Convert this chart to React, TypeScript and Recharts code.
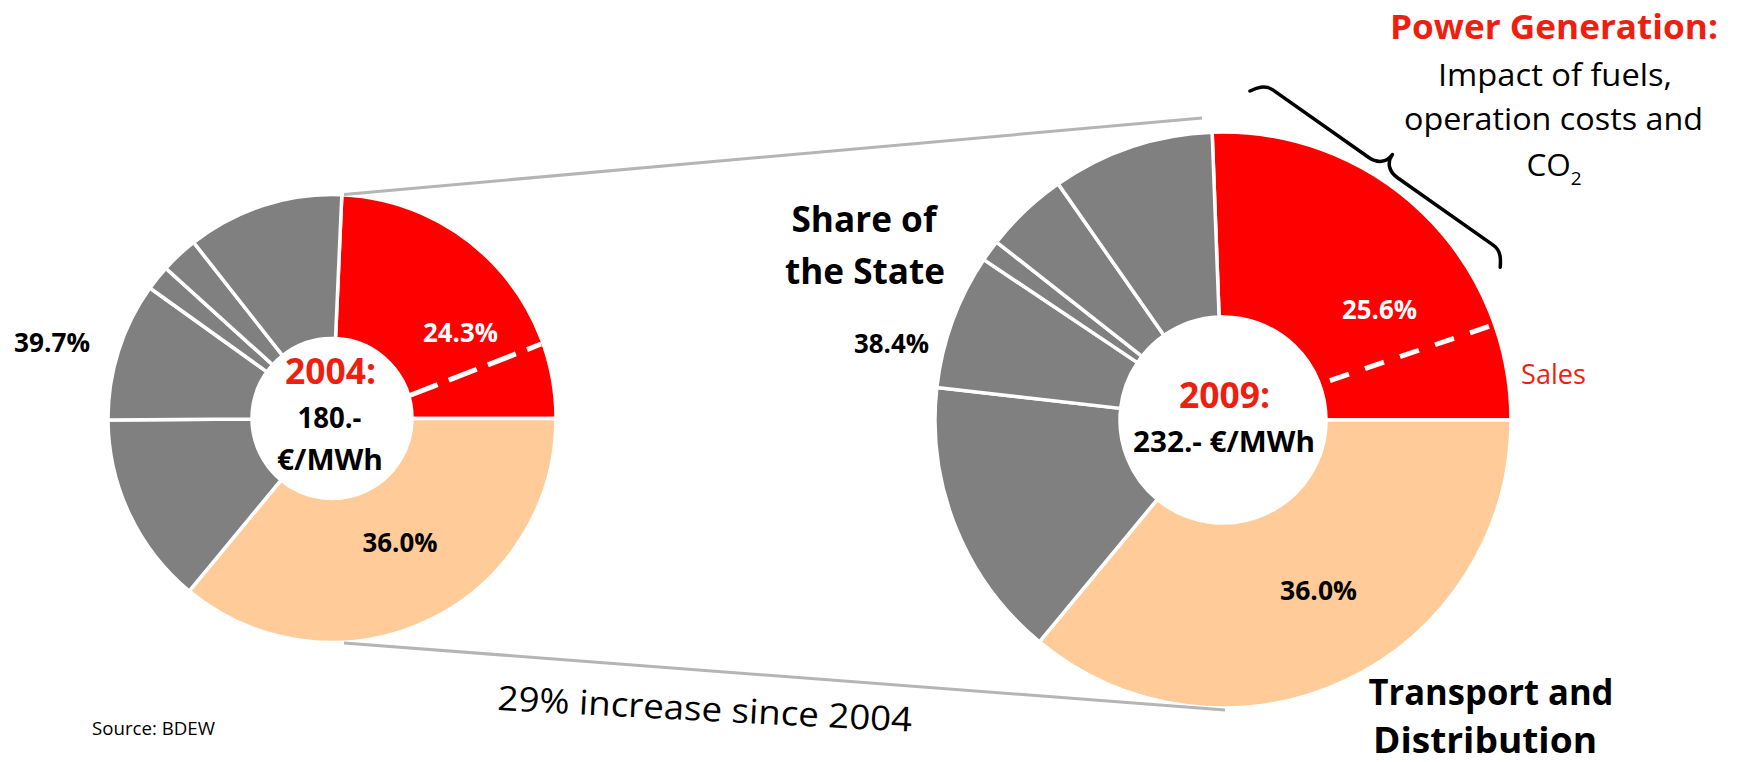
import React from 'react';
import { PieChart, Pie, Cell } from 'recharts';

// ---------- data ----------
const segmentNames = ['Power Generation', 'Transport and Distribution', 'State share A', 'State share B', 'State share C', 'State share D', 'State share E'];
const share2004 = [24.3, 36.0, 13.9, 10.0, 1.8, 2.7, 11.3];
const share2009 = [25.6, 36.0, 15.8, 7.6, 1.2, 4.7, 9.1];
const segmentColors = ['#ff0000', '#ffcc99', '#808080', '#808080', '#808080', '#808080', '#808080'];
const years = ['2004', '2009'];
const prices = [180, 232];

// ---------- layout ----------
const W = 1737;
const H = 762;
const RED_TEXT = '#ee1f10';
const FONT = "'Open Sans', 'Noto Sans', sans-serif";

const P1 = { cx: 332, cy: 418.5, inner: 80, outer: 224 };
const P2 = { cx: 1223, cy: 420, inner: 103, outer: 288 };

const toData = (vals: number[]) => vals.map((v, i) => ({ name: segmentNames[i], value: v }));
const data2004 = toData(share2004);
const data2009 = toData(share2009);
const stateShare = (vals: number[]) => vals.slice(2).reduce((a, b) => a + b, 0);
const pct = (v: number) => `${v.toFixed(1)}%`;

const polar = (cx: number, cy: number, r: number, deg: number) => {
  const a = (deg * Math.PI) / 180;
  return [cx + r * Math.cos(a), cy - r * Math.sin(a)];
};

type TProps = {
  x: number; y: number; size: number; w?: number; bold?: boolean; fill?: string;
  anchor?: 'start' | 'middle' | 'end'; children: React.ReactNode; transform?: string;
};
const T = ({ x, y, size, w, bold, fill = '#000', anchor = 'middle', children, transform }: TProps) => (
  <text
    x={x}
    y={y}
    fontSize={size}
    fontFamily={FONT}
    fontWeight={bold ? 700 : 400}
    fill={fill}
    textAnchor={anchor}
    textLength={w}
    lengthAdjust={w ? 'spacingAndGlyphs' : undefined}
    transform={transform}
  >
    {children}
  </text>
);

const Dashed = ({ p, r1, a1, r2, a2, dash }: { p: typeof P1; r1: number; a1: number; r2: number; a2: number; dash: string }) => {
  const [x1, y1] = polar(p.cx, p.cy, r1, a1);
  const [x2, y2] = polar(p.cx, p.cy, r2, a2);
  return <line x1={x1} y1={y1} x2={x2} y2={y2} stroke="#fff" strokeWidth={5} strokeDasharray={dash} />;
};

export default function App() {
  const braceL = 306;
  const h = braceL / 2;
  const bracePath = `M0,0 C3,-5 8,-14 18,-14 L${h - 18},-14 C${h - 7},-14 ${h},-20 ${h},-30 C${h},-20 ${h + 7},-14 ${h + 18},-14 L${braceL - 18},-14 C${braceL - 8},-14 ${braceL - 3},-5 ${braceL},0`;

  return (
    <div style={{ position: 'absolute', left: 0, top: 0, width: W, height: H, background: '#fff', overflow: 'hidden' }}>
      <PieChart width={W} height={H} margin={{ top: 0, right: 0, bottom: 0, left: 0 }}>
        <Pie
          data={data2004}
          dataKey="value"
          nameKey="name"
          cx={P1.cx}
          cy={P1.cy}
          innerRadius={P1.inner}
          outerRadius={P1.outer}
          startAngle={share2004[0] * 3.6}
          endAngle={share2004[0] * 3.6 - 360}
          stroke="#fff"
          strokeWidth={3.5}
          isAnimationActive={false}
          label={false}
          labelLine={false}
        >
          {data2004.map((d, i) => (
            <Cell key={d.name} fill={segmentColors[i]} />
          ))}
        </Pie>
        <Pie
          data={data2009}
          dataKey="value"
          nameKey="name"
          cx={P2.cx}
          cy={P2.cy}
          innerRadius={P2.inner}
          outerRadius={P2.outer}
          startAngle={share2009[0] * 3.6}
          endAngle={share2009[0] * 3.6 - 360}
          stroke="#fff"
          strokeWidth={3.5}
          isAnimationActive={false}
          label={false}
          labelLine={false}
        >
          {data2009.map((d, i) => (
            <Cell key={d.name} fill={segmentColors[i]} />
          ))}
        </Pie>
      </PieChart>

      <svg width={W} height={H} style={{ position: 'absolute', left: 0, top: 0, pointerEvents: 'none' }}>
        {/* connector lines */}
        <line x1={344} y1={194.5} x2={1202} y2={118} stroke="#b5b5b5" strokeWidth={3} />
        <line x1={344} y1={643} x2={1225} y2={710} stroke="#b5b5b5" strokeWidth={3} />

        {/* dashed "sales" separators */}
        <Dashed p={P1} r1={81} a1={16.5} r2={222} a2={19.6} dash="30 12" />
        <Dashed p={P2} r1={114} a1={20.2} r2={283} a2={19.4} dash="20 17" />

        {/* brace */}
        <g transform="translate(1250,91) rotate(35.15)">
          <path d={bracePath} fill="none" stroke="#000" strokeWidth={3.5} strokeLinecap="round" strokeLinejoin="round" />
        </g>

        {/* 2004 pie texts */}
        <T x={330.5} y={384} size={35} w={91} bold fill={RED_TEXT}>{years[0]}:</T>
        <T x={329.5} y={428} size={29} w={64} bold>{prices[0]}.-</T>
        <T x={330} y={470} size={29} w={106} bold>€/MWh</T>
        <T x={460.5} y={342} size={27} w={75} bold fill="#fff">{pct(share2004[0])}</T>
        <T x={400} y={552} size={27} w={75} bold>{pct(share2004[1])}</T>
        <T x={52} y={352} size={27} w={76} bold>{pct(stateShare(share2004))}</T>

        {/* 2009 pie texts */}
        <T x={1224.5} y={408} size={35} w={91} bold fill={RED_TEXT}>{years[1]}:</T>
        <T x={1224} y={452} size={29} w={182} bold>{prices[1]}.- €/MWh</T>
        <T x={1379.5} y={319} size={27} w={75} bold fill="#fff">{pct(share2009[0])}</T>
        <T x={1318.5} y={600} size={27} w={77} bold>{pct(share2009[1])}</T>
        <T x={891.5} y={353} size={27} w={75} bold>{pct(stateShare(share2009))}</T>

        {/* annotations */}
        <T x={1554} y={39} size={34} w={328} bold fill={RED_TEXT}>Power Generation:</T>
        <T x={1555} y={86} size={31.5} w={234}>Impact of fuels,</T>
        <T x={1553.5} y={130} size={31.5} w={299}>operation costs and</T>
        <text x={1554} y={176} fontSize={31.5} fontFamily={FONT} textAnchor="middle" fill="#000">
          CO<tspan fontSize={19} dy={9}>2</tspan>
        </text>
        <T x={864} y={232} size={35} w={145} bold>Share of</T>
        <T x={865} y={284} size={35} w={160} bold>the State</T>
        <T x={1491} y={705} size={35} w={245} bold>Transport and</T>
        <T x={1485} y={753} size={35} w={224} bold>Distribution</T>
        <T x={1521} y={384} size={27} w={65} anchor="start" fill={RED_TEXT}>Sales</T>
        <T x={497} y={710} size={34} w={415} anchor="start" transform="rotate(3 497 710)">29% increase since 2004</T>
        <T x={92} y={735} size={18} w={123} anchor="start">Source: BDEW</T>
      </svg>
    </div>
  );
}
